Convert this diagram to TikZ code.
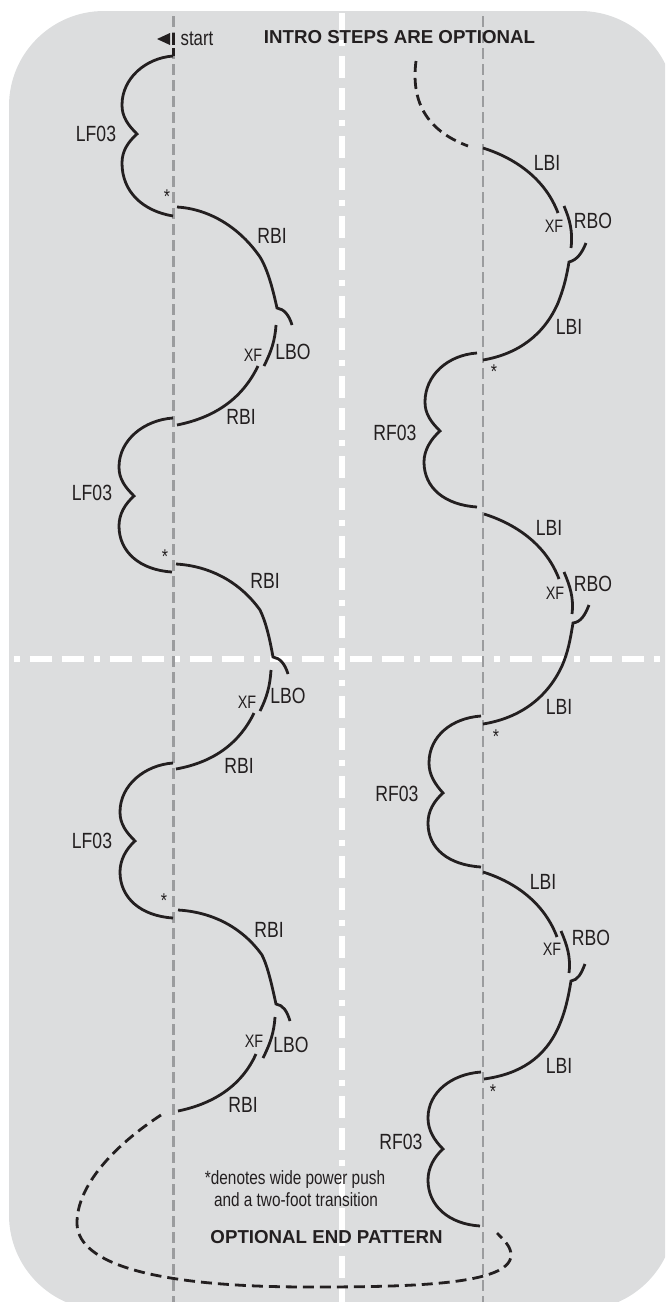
\documentclass[tikz,border=0pt]{standalone}
\usepackage{fontspec}
\setmainfont[FakeStretch=0.8]{Liberation Sans}
\newfontfamily\headfont[Scale=1]{Liberation Sans}
\usetikzlibrary{arrows.meta,calc}
\definecolor{rinkgray}{HTML}{DCDDDE}
\definecolor{linegray}{HTML}{9B9C9E}
\definecolor{trackblk}{HTML}{231F20}
\begin{document}
\begin{tikzpicture}[
    x=.5pt, y=-.5pt,
    trk/.style={draw=trackblk, line width=1.4pt},
    optrk/.style={trk, dash pattern=on 5.5pt off 3pt},
    axisln/.style={draw=linegray, line width=1.2pt, dash pattern=on 5.5pt off 2.5pt},
    whiteln/.style={draw=white, line width=2.6pt, dash pattern=on 11pt off 5pt on 11pt off 5pt on 3pt off 5pt},
    lbl/.style={inner sep=0pt, text=trackblk, font=\fontsize{11}{12}\selectfont},
    xf/.style={lbl, font=\fontsize{9}{10}\selectfont},
    star/.style={lbl, font=\fontsize{10}{10}\selectfont},
    head/.style={inner sep=0pt, text=trackblk, font=\fontsize{9.35}{11}\headfont\bfseries},
  ]
    \useasboundingbox (0,0) rectangle (665,1302);
    % Rink
    \begin{scope}
      \clip (0,0) rectangle (665,1302);
      \fill[rinkgray, rounded corners=47.5pt] (9,11) rectangle (675,1310);
    \end{scope}

    % Axes
    \draw[whiteln, dash phase=32pt] (13.6,659) -- (665,659);
    \draw[whiteln, dash phase=18.5pt] (342,13) -- (342,1302);
    \draw[axisln] (173.5,16) -- (173.5,1302);
    \draw[axisln] (483,16) -- (483,1302);

    % Start mark
    \fill[trackblk] (157,39) -- (170,33) -- (170,45) -- cycle;
    \draw[trk] (173.5,33) -- (173.5,45);
    \draw[trk] (173.5,48) -- (173.5,56);
    \node[lbl, font=\fontsize{10.5}{12}\selectfont] (startlbl) at (197,39) {start};

    % Left side
    \draw[trk] (173,56) .. controls (146,58) and (122,78) .. (122,105) .. controls (122,117) and (128,125) .. (137,134) .. controls (128,142) and (122,151) .. (122,163) .. controls (122,192) and (143,211) .. (173,216);
    \draw[trk] (177,207) .. controls (210,209) and (240,228) .. (260,257) .. controls (268,270) and (273,290) .. (277,308) .. controls (284,309) and (289,315) .. (292,325);
    \draw[trk] (276,325) .. controls (275,341) and (271,352) .. (264,366);
    \draw[trk] (258,366) .. controls (243,397) and (217,417) .. (177,425);
    \node[lbl] (lfa) at (96,134) {LF03};
    \node[star] (stara) at (167,197) {*};
    \node[lbl] (rbia) at (272,236) {RBI};
    \node[lbl] (lboa) at (293,352) {LBO};
    \node[xf] (xfa) at (253,355) {XF};
    \node[lbl] (rbib) at (241,417) {RBI};

    \draw[trk] (173,418) .. controls (144,420) and (119,440) .. (119,467) .. controls (119,479) and (125,487) .. (134,496) .. controls (125,504) and (119,514) .. (119,526) .. controls (119,552) and (140,570) .. (172,572);
    \draw[trk] (176,564) .. controls (210,566) and (240,582) .. (260,610) .. controls (266,622) and (270,640) .. (273,657) .. controls (280,658) and (285,664) .. (288,674);
    \draw[trk] (271,670) .. controls (270,686) and (267,697) .. (260,711);
    \draw[trk] (254,713) .. controls (240,742) and (215,762) .. (176,769);
    \node[lbl] (lfb) at (92,493) {LF03};
    \node[star] (starb) at (165,557) {*};
    \node[lbl] (rbic) at (265,581) {RBI};
    \node[lbl] (lbob) at (288,696) {LBO};
    \node[xf] (xfb) at (247,702) {XF};
    \node[lbl] (rbid) at (239,766) {RBI};

    \draw[trk] (173,763) .. controls (145,765) and (120,785) .. (120,812) .. controls (120,824) and (126,832) .. (135,841) .. controls (126,849) and (120,860) .. (120,872) .. controls (120,898) and (141,916) .. (173,918);
    \draw[trk] (178,910) .. controls (212,912) and (242,927) .. (262,955) .. controls (268,967) and (272,986) .. (276,1004) .. controls (283,1005) and (287,1011) .. (290,1021);
    \draw[trk] (275,1017) .. controls (274,1033) and (270,1044) .. (263,1058);
    \draw[trk] (256,1054) .. controls (243,1083) and (217,1103) .. (178,1111);
    \node[lbl] (lfc) at (92,841) {LF03};
    \node[star] (starc) at (164,901) {*};
    \node[lbl] (rbie) at (269,930) {RBI};
    \node[lbl] (lboc) at (291,1045) {LBO};
    \node[xf] (xfc) at (254,1041) {XF};
    \node[lbl] (rbif) at (243,1105) {RBI};

    % Right side
    \draw[optrk] (416,61) .. controls (411,100) and (425,130) .. (468,146);
    \draw[trk] (483,148) .. controls (518,159) and (546,181) .. (558,213);
    \draw[trk] (564,206) .. controls (570,220) and (573,232) .. (571,248);
    \draw[trk] (586,243) .. controls (582,253) and (577,260) .. (569,262) .. controls (566,280) and (563,290) .. (558,303) .. controls (544,335) and (518,354) .. (483,360);
    \draw[trk] (477,353) .. controls (448,355) and (425,375) .. (425,402) .. controls (425,414) and (431,422) .. (440,431) .. controls (431,439) and (424,450) .. (424,462) .. controls (424,488) and (445,505) .. (477,507);
    \node[lbl] (lbia) at (547,163) {LBI};
    \node[xf] (xfd) at (554,226) {XF};
    \node[lbl] (rboa) at (593,221) {RBO};
    \node[lbl] (lbib) at (569,327) {LBI};
    \node[star] (stard) at (494,372) {*};
    \node[lbl] (rfa) at (395,433) {RF03};

    \draw[trk] (484,514) .. controls (519,525) and (547,547) .. (559,579);
    \draw[trk] (564,572) .. controls (570,586) and (574,598) .. (572,614);
    \draw[trk] (589,605) .. controls (585,615) and (581,622) .. (573,623) .. controls (570,641) and (568,652) .. (562,666) .. controls (547,698) and (520,718) .. (483,724);
    \draw[trk] (481,716) .. controls (452,718) and (429,736) .. (429,763) .. controls (429,775) and (435,784) .. (443,793) .. controls (434,801) and (428,811) .. (428,823) .. controls (428,849) and (449,865) .. (481,867);
    \node[lbl] (lbic) at (549,528) {LBI};
    \node[xf] (xfe) at (555,593) {XF};
    \node[lbl] (rbob) at (593,584) {RBO};
    \node[lbl] (lbid) at (559,707) {LBI};
    \node[star] (stare) at (496,737) {*};
    \node[lbl] (rfb) at (397,794) {RF03};

    \draw[trk] (483,872) .. controls (518,883) and (545,905) .. (557,937);
    \draw[trk] (561,931) .. controls (567,945) and (571,957) .. (569,973);
    \draw[trk] (585,964) .. controls (581,974) and (578,980) .. (571,981) .. controls (568,999) and (565,1012) .. (559,1026) .. controls (545,1058) and (520,1074) .. (484,1079);
    \draw[trk] (481,1072) .. controls (452,1074) and (428,1092) .. (428,1118) .. controls (428,1130) and (434,1140) .. (443,1149) .. controls (434,1157) and (428,1168) .. (428,1180) .. controls (428,1206) and (449,1224) .. (480,1226);
    \node[lbl] (lbie) at (543,882) {LBI};
    \node[xf] (xff) at (552,949) {XF};
    \node[lbl] (rboc) at (591,938) {RBO};
    \node[lbl] (lbif) at (559,1066) {LBI};
    \node[star] (starf) at (493,1092) {*};
    \node[lbl] (rfc) at (401,1142) {RF03};

    % End pattern
    \draw[optrk] (161,1115) .. controls (115,1145) and (77,1185) .. (77,1223) .. controls (77,1258) and (135,1287) .. (310,1287) .. controls (410,1287) and (511,1285) .. (511,1255) .. controls (511,1247) and (505,1241) .. (497,1233);

    % Texts
    \node[head] (intro) at (399.5,37) {INTRO STEPS ARE OPTIONAL};
    \node[head] (endp) at (326.5,1237) {OPTIONAL END PATTERN};
    \node[lbl, font=\fontsize{9.6}{10}\selectfont] (notea) at (295,1180) {*denotes wide power push};
    \node[lbl, font=\fontsize{9.6}{10}\selectfont] (noteb) at (296,1200) {and a two-foot transition};
  \end{tikzpicture}
\end{document}
